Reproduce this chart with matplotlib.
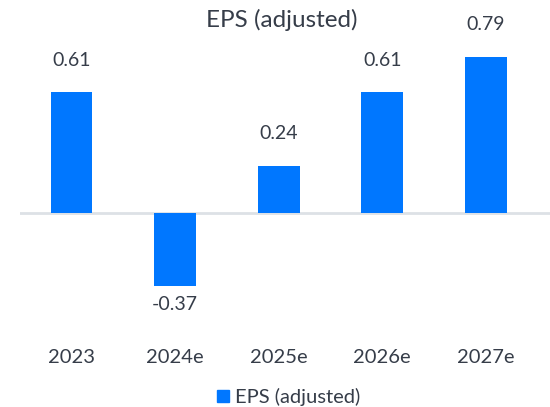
import matplotlib.pyplot as plt
import numpy as np

years = ["2023", "2024e", "2025e", "2026e", "2027e"]
eps = [0.61, -0.37, 0.24, 0.61, 0.79]
value_labels = ["0.61", "-0.37", "0.24", "0.61", "0.79"]

BLUE = "#0077ff"
TEXT = "#363d49"

plt.rcParams["font.family"] = ["Lato", "DejaVu Sans"]

fig = plt.figure(figsize=(5.5, 4.07), dpi=100)
ax = fig.add_axes([19.7 / 550, 0.2334, 1 - 19.7 / 550, 0.6806])

x = np.arange(len(years))
ax.bar(x, eps, width=0.405, color=BLUE, zorder=2)
ax.axhline(0, color="#dde1e6", lw=2, zorder=1)

for xi, v, lab in zip(x, eps, value_labels):
    if v >= 0:
        ax.annotate(lab, (xi, v), xytext=(0, 17), textcoords="offset points",
                    ha="center", va="bottom", fontsize=14, color=TEXT)
    else:
        ax.annotate(lab, (xi, v), xytext=(0, -7), textcoords="offset points",
                    ha="center", va="top", fontsize=14, color=TEXT)

# category labels sit well below the plot, not on the zero line
for xi, yr in zip(x, years):
    ax.text(xi, -0.73, yr, ha="center", va="center", fontsize=14.5,
            color=TEXT, clip_on=False)

ax.set_xlim(-0.5, 4.62)
ax.set_ylim(-0.5, 0.9)
ax.axis("off")

fig.text(282 / 550, 1 - 20 / 407, "EPS (adjusted)", ha="center", va="center",
         fontsize=17.5, color=TEXT)

handle = plt.Rectangle((0, 0), 1, 1, color=BLUE)
fig.legend([handle], ["EPS (adjusted)"], loc="center",
           bbox_to_anchor=(288.5 / 550, 1 - 397 / 407), frameon=False,
           fontsize=14.5, handlelength=0.6, handleheight=0.6, handletextpad=0.3,
           labelcolor=TEXT, borderpad=0)

fig.savefig("out.png", dpi=100)
